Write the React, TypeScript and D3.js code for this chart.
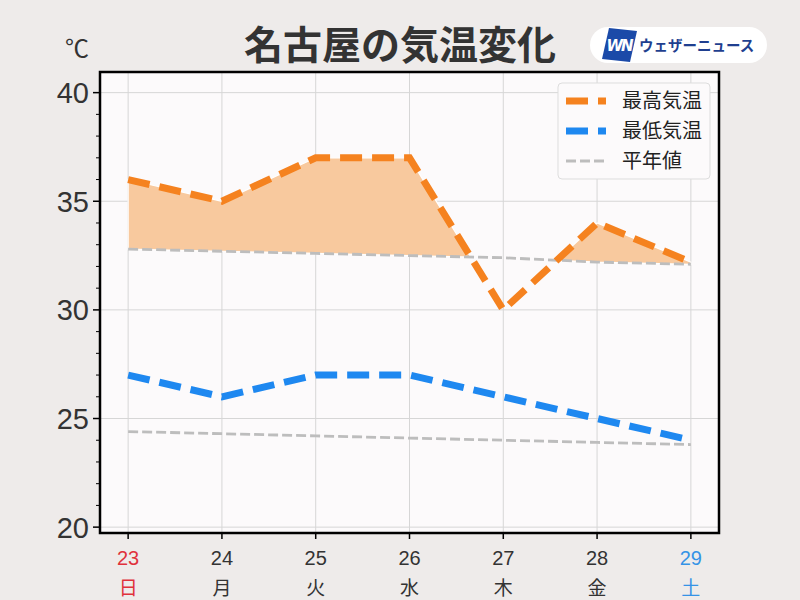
import React from "react";
import * as d3 from "d3";

const days = ["23", "24", "25", "26", "27", "28", "29"];
const weekdays = ["日", "月", "火", "水", "木", "金", "土"];
const highTemps = [36, 35, 37, 37, 30, 34, 32.2];
const lowTemps = [27, 26, 27, 27, 26, 25, 24];
const normalHigh = [32.8, 32.7, 32.6, 32.5, 32.4, 32.2, 32.1];
const normalLow = [24.4, 24.3, 24.2, 24.1, 24.0, 23.9, 23.8];
const yTicks = [20, 25, 30, 35, 40];
const minorTicks = d3.range(20, 41, 1);
const legendLabels = ["最高気温", "最低気温", "平年値"];

const W = 800, H = 600;
const L = 100, R = 719, T = 72, B = 533;
const ORANGE = "#f5821f";
const BLUE = "#1e88f0";
const GRAY = "#bdbdbd";
const FONT = "'Noto Sans CJK JP', 'Noto Sans', sans-serif";
const NUMFONT = "'Liberation Sans', Arial, sans-serif";

export default function App() {
  const x = d3.scaleLinear().domain([-0.3, 6.3]).range([L, R]);
  const y = d3.scaleLinear().domain([19.73, 40.95]).range([B, T]);

  const line = d3
    .line<number>()
    .x((_, i) => x(i))
    .y((d) => y(d));

  // fill polygons where high > normal high
  const polys: [number, number][][] = [];
  let cur: [number, number][] = [];
  for (let i = 0; i < days.length; i++) {
    const d = highTemps[i] - normalHigh[i];
    if (i > 0) {
      const dp = highTemps[i - 1] - normalHigh[i - 1];
      if ((dp > 0) !== (d > 0)) {
        const t = dp / (dp - d);
        const xi = i - 1 + t;
        const yi = normalHigh[i - 1] + t * (normalHigh[i] - normalHigh[i - 1]);
        if (dp > 0) {
          cur.push([xi, yi]);
          polys.push(cur);
          cur = [];
        } else {
          cur = [[xi, yi]];
        }
      }
    }
    if (d > 0) cur.push([i, highTemps[i]]);
  }
  if (cur.length) polys.push(cur);

  const interp = (xv: number) => {
    const i0 = Math.min(Math.floor(xv), days.length - 2);
    const t = xv - i0;
    return normalHigh[i0] + t * (normalHigh[i0 + 1] - normalHigh[i0]);
  };

  const fillPaths = polys.map((p) => {
    const xs = p.map((q) => q[0]);
    const top = p.map((q) => [x(q[0]), y(q[1])]);
    const x0 = xs[0], x1 = xs[xs.length - 1];
    const pts: number[] = [x1];
    for (let i = Math.ceil(x1) - 1; i > x0; i--) pts.push(i);
    pts.push(x0);
    const bottom = pts.map((xv) => [x(xv), y(interp(xv))]);
    const all = [...top, ...bottom];
    return "M" + all.map((q) => q.join(",")).join("L") + "Z";
  });

  const dashHigh = "22,10";
  return (
    <svg width={W} height={H} style={{ display: "block", position: "absolute", left: 0, top: 0 }} fontFamily={FONT}>
      <rect width={W} height={H} fill="#eeebea" />
      <rect x={L} y={T} width={R - L} height={B - T} fill="#fcfafb" />
      {/* grid */}
      {days.map((_, i) => (
        <line key={"gx" + i} x1={x(i)} x2={x(i)} y1={T} y2={B} stroke="#d6d6d6" strokeWidth={1} />
      ))}
      {yTicks.map((v) => (
        <line key={"gy" + v} x1={L} x2={R} y1={y(v)} y2={y(v)} stroke="#d6d6d6" strokeWidth={1} />
      ))}
      {/* fill */}
      {fillPaths.map((d, i) => (
        <path key={"f" + i} d={d} fill="#f8c99e" stroke="#ffffff" strokeWidth={1.2} />
      ))}
      {/* normal lines */}
      <path d={line(normalHigh) || ""} fill="none" stroke={GRAY} strokeWidth={2.8} strokeDasharray="10,4" />
      <path d={line(normalLow) || ""} fill="none" stroke={GRAY} strokeWidth={2.8} strokeDasharray="10,4" />
      {/* temps */}
      <path d={line(highTemps) || ""} fill="none" stroke={ORANGE} strokeWidth={7} strokeDasharray={dashHigh} />
      <path d={line(lowTemps) || ""} fill="none" stroke={BLUE} strokeWidth={7} strokeDasharray={dashHigh} />
      {/* spines */}
      <rect x={L} y={T} width={R - L} height={B - T} fill="none" stroke="#000" strokeWidth={2.5} />
      {/* y ticks */}
      {minorTicks.map((v) => (
        <line key={"mt" + v} x1={L} x2={L - (v % 5 === 0 ? 7 : 4)} y1={y(v)} y2={y(v)} stroke="#000" strokeWidth={v % 5 === 0 ? 1.5 : 1} />
      ))}
      {yTicks.map((v) => (
        <text key={"yl" + v} x={89} y={y(v)} dy="0.36em" textAnchor="end" fontSize={29} fill="#333" fontFamily={NUMFONT}>
          {v}
        </text>
      ))}
      <text x={77} y={57} textAnchor="middle" fontSize={24} fill="#333">℃</text>
      {/* x ticks */}
      {days.map((d, i) => {
        const c = i === 0 ? "#e0323c" : i === days.length - 1 ? "#3593e6" : "#333";
        return (
          <g key={"xt" + i}>
            <line x1={x(i)} x2={x(i)} y1={B} y2={B + 6} stroke="#000" strokeWidth={1.5} />
            <text x={x(i)} y={565} textAnchor="middle" fontSize={20} fill={c} fontFamily={NUMFONT}>{d}</text>
            <text x={x(i)} y={595} textAnchor="middle" fontSize={19} fill={c}>{weekdays[i]}</text>
          </g>
        );
      })}
      {/* legend */}
      <rect x={558} y={83} width={152} height={96} rx={4} fill="#fcfafb" stroke="#dddddd" strokeWidth={1} />
      {legendLabels.map((lab, i) => {
        const ly = 101 + i * 30;
        const col = i === 0 ? ORANGE : i === 1 ? BLUE : GRAY;
        return (
          <g key={"lg" + i}>
            {i < 2 ? (
              <line x1={566} x2={606} y1={ly} y2={ly} stroke={col} strokeWidth={7} strokeDasharray="22,10" />
            ) : (
              <line x1={566} x2={606} y1={ly} y2={ly} stroke={col} strokeWidth={2.8} strokeDasharray="10,4" />
            )}
            <text x={622} y={ly} dy="0.36em" fontSize={20} fill="#222">{lab}</text>
          </g>
        );
      })}
      {/* title */}
      <text x={400} y={59} textAnchor="middle" fontSize={39} fontWeight="bold" fill="#333">名古屋の気温変化</text>
      {/* logo */}
      <rect x={590} y={27} width={177} height={36} rx={18} fill="#ffffff" />
      <polygon points="609,28 637,31 630,62 602,59" fill="#1b4aa8" />
      <text x={619} y={51} textAnchor="middle" fontSize={15} fontWeight="bold" fontStyle="italic" fill="#fff" fontFamily="'DejaVu Sans', sans-serif" letterSpacing={-2}>WN</text>
      <text x={639} y={51} fontSize={14.5} fontWeight="bold" fill="#1f3f8f">ウェザーニュース</text>
    </svg>
  );
}
